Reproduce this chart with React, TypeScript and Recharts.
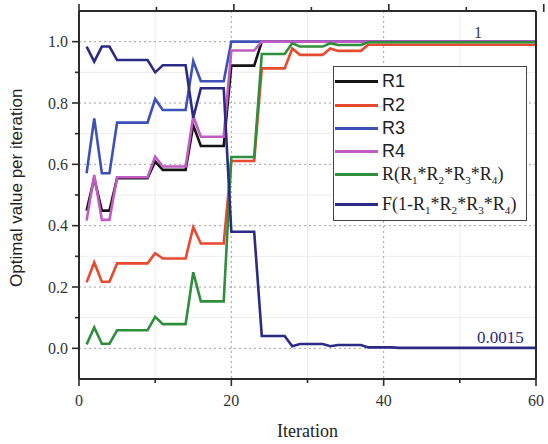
import {
  LineChart,
  Line,
  XAxis,
  YAxis,
  CartesianGrid,
  Legend,
  Label,
  ReferenceDot,
} from "recharts";

const iterations = Array.from({ length: 60 }, (_, i) => i + 1);

const r1 = [
  0.449, 0.555, 0.449, 0.449, 0.555, 0.555, 0.555, 0.555, 0.555, 0.609,
  0.582, 0.582, 0.582, 0.582, 0.727, 0.66, 0.66, 0.66, 0.66, 0.922,
  0.922, 0.922, 0.922, 1, 1, 1, 1, 1, 1, 1,
  1, 1, 1, 1, 1, 1, 1, 1, 1, 1,
  1, 1, 1, 1, 1, 1, 1, 1, 1, 1,
  1, 1, 1, 1, 1, 1, 1, 1, 1, 1,
];
const r2 = [
  0.215, 0.28, 0.217, 0.217, 0.277, 0.277, 0.277, 0.277, 0.277, 0.31,
  0.293, 0.293, 0.293, 0.293, 0.395, 0.342, 0.342, 0.342, 0.342, 0.611,
  0.611, 0.611, 0.611, 0.913, 0.913, 0.913, 0.913, 0.978, 0.957, 0.957,
  0.957, 0.957, 0.978, 0.97, 0.97, 0.97, 0.97, 0.99, 0.99, 0.99,
  0.99, 0.99, 0.99, 0.99, 0.99, 0.99, 0.99, 0.99, 0.99, 0.99,
  0.99, 0.99, 0.99, 0.99, 0.99, 0.99, 0.99, 0.99, 0.99, 0.99,
];
const r3 = [
  0.571, 0.75, 0.571, 0.571, 0.736, 0.736, 0.736, 0.736, 0.736, 0.813,
  0.777, 0.777, 0.777, 0.777, 0.937, 0.871, 0.871, 0.871, 0.871, 1,
  1, 1, 1, 1, 1, 1, 1, 1, 1, 1,
  1, 1, 1, 1, 1, 1, 1, 1, 1, 1,
  1, 1, 1, 1, 1, 1, 1, 1, 1, 1,
  1, 1, 1, 1, 1, 1, 1, 1, 1, 1,
];
const r4 = [
  0.417, 0.565, 0.419, 0.419, 0.558, 0.558, 0.558, 0.558, 0.558, 0.625,
  0.593, 0.593, 0.593, 0.593, 0.757, 0.69, 0.69, 0.69, 0.69, 0.971,
  0.971, 0.971, 0.971, 1, 1, 1, 1, 1, 1, 1,
  1, 1, 1, 1, 1, 1, 1, 1, 1, 1,
  1, 1, 1, 1, 1, 1, 1, 1, 1, 1,
  1, 1, 1, 1, 1, 1, 1, 1, 1, 1,
];
// system reliability R = R1*R2*R3*R4
const rSys = [
  0.013, 0.068, 0.015, 0.015, 0.059, 0.059, 0.059, 0.059, 0.059, 0.103,
  0.079, 0.079, 0.079, 0.079, 0.248, 0.153, 0.153, 0.153, 0.153, 0.624,
  0.624, 0.624, 0.624, 0.96, 0.96, 0.96, 0.96, 0.995, 0.984, 0.984,
  0.984, 0.984, 0.995, 0.989, 0.989, 0.989, 0.989, 0.998, 0.998, 0.998,
  0.998, 0.998, 0.998, 0.998, 0.998, 0.998, 0.998, 0.998, 0.998, 0.998,
  0.998, 0.998, 0.998, 0.998, 0.998, 0.998, 0.998, 0.998, 0.998, 0.998,
];
// failure F = 1 - R1*R2*R3*R4
const fSys = [
  0.984, 0.935, 0.984, 0.984, 0.94, 0.94, 0.94, 0.94, 0.94, 0.9,
  0.923, 0.923, 0.923, 0.923, 0.752, 0.848, 0.848, 0.848, 0.848, 0.38,
  0.38, 0.38, 0.38, 0.04, 0.04, 0.04, 0.04, 0.007, 0.014, 0.014,
  0.014, 0.014, 0.007, 0.011, 0.011, 0.011, 0.011, 0.003, 0.003, 0.003,
  0.003, 0.0015, 0.0015, 0.0015, 0.0015, 0.0015, 0.0015, 0.0015, 0.0015, 0.0015,
  0.0015, 0.0015, 0.0015, 0.0015, 0.0015, 0.0015, 0.0015, 0.0015, 0.0015, 0.0015,
];

const xTicks = [0, 10, 20, 30, 40, 50, 60];
const yTicks = [0, 0.1, 0.2, 0.3, 0.4, 0.5, 0.6, 0.7, 0.8, 0.9, 1.0];
const yMajorGrid = [0, 0.2, 0.4, 0.6, 0.8, 1.0];
const yMinorGrid = [0.1, 0.3, 0.5, 0.7, 0.9];
const xMajorGrid = [20, 40];
const xMinorGrid = [10, 30, 50];

const data = iterations.map((it, i) => ({
  it,
  R1: r1[i],
  R2: r2[i],
  R3: r3[i],
  R4: r4[i],
  R: rSys[i],
  F: fSys[i],
}));

const SERIF = '"Liberation Serif", "Times New Roman", serif';
const SANS = '"Liberation Sans", Arial, sans-serif';
const AXIS = "#2b2b2b";
const TEXT = "#333";

const SERIES = [
  { key: "R1", color: "#141414" },
  { key: "R2", color: "#e84a2f" },
  { key: "R3", color: "#3e51b8" },
  { key: "R4", color: "#c05cc4" },
  { key: "R", color: "#2f8f3c" },
  { key: "F", color: "#2b2b85" },
];
const seriesOrder = SERIES.map((s) => s.key);

const sub = (d: string) => (
  <sub style={{ fontSize: "0.62em", verticalAlign: "-0.35em", lineHeight: 0 }}>{d}</sub>
);

const legendLabels: Record<string, any> = {
  R1: <span style={{ fontFamily: SANS }}>R1</span>,
  R2: <span style={{ fontFamily: SANS }}>R2</span>,
  R3: <span style={{ fontFamily: SANS }}>R3</span>,
  R4: <span style={{ fontFamily: SANS }}>R4</span>,
  R: (
    <span style={{ fontFamily: SERIF }}>
      R(R{sub("1")}*R{sub("2")}*R{sub("3")}*R{sub("4")})
    </span>
  ),
  F: (
    <span style={{ fontFamily: SERIF }}>
      F(1-R{sub("1")}*R{sub("2")}*R{sub("3")}*R{sub("4")})
    </span>
  ),
};
const legendRowCenters = [14, 38, 61, 84, 107, 137];

function BoxLegend({ payload }: any) {
  if (!payload) return null;
  const items = [...payload].sort(
    (a: any, b: any) => seriesOrder.indexOf(a.dataKey) - seriesOrder.indexOf(b.dataKey)
  );
  return (
    <div
      style={{
        position: "relative",
        width: 194,
        height: 155,
        boxSizing: "border-box",
        border: "1.5px solid #444",
        background: "#fff",
      }}
    >
      {items.map((entry: any, i: number) => (
        <div
          key={entry.dataKey}
          style={{
            position: "absolute",
            left: 1,
            top: legendRowCenters[i] - 12,
            height: 24,
            display: "flex",
            alignItems: "center",
            whiteSpace: "nowrap",
            fontSize: 18,
            color: "#222",
          }}
        >
          <div style={{ width: 43, height: 3, background: entry.color }} />
          <div style={{ marginLeft: 4 }}>{legendLabels[entry.dataKey]}</div>
        </div>
      ))}
    </div>
  );
}

const isMajorX = (v: number) => v % 20 === 0;
const isMajorY = (v: number) => Math.round(v * 10) % 2 === 0;

function BottomTick({ x, y, payload }: any) {
  const major = isMajorX(payload.value);
  return (
    <g>
      <line x1={x} x2={x} y1={y - 1} y2={y + (major ? 7 : 4)} stroke={AXIS} strokeWidth={1.6} />
      {major && (
        <text x={x} y={y + 27} textAnchor="middle" fontFamily={SERIF} fontSize={16} fill={TEXT}>
          {payload.value}
        </text>
      )}
    </g>
  );
}

function TopTick({ x, y, payload }: any) {
  const major = isMajorX(payload.value);
  return <line x1={x} x2={x} y1={y + 1} y2={y - (major ? 7 : 4)} stroke={AXIS} strokeWidth={1.6} />;
}

function LeftTick({ x, y, payload }: any) {
  const major = isMajorY(payload.value);
  return (
    <g>
      <line x1={x - (major ? 7 : 4)} x2={x + 1} y1={y} y2={y} stroke={AXIS} strokeWidth={1.6} />
      {major && (
        <text x={x - 11} y={y} dy="0.35em" textAnchor="end" fontFamily={SERIF} fontSize={16} fill={TEXT}>
          {payload.value.toFixed(1)}
        </text>
      )}
    </g>
  );
}

function RightTick({ x, y, payload }: any) {
  const major = isMajorY(payload.value);
  return <line x1={x - 1} x2={x + (major ? 7 : 4)} y1={y} y2={y} stroke={AXIS} strokeWidth={1.6} />;
}

export default function App() {
  return (
    <div style={{ position: "absolute", left: 0, top: 0, background: "#fff" }}>
      <LineChart width={548} height={444} data={data} margin={{ top: 0, right: 0, bottom: 0, left: 0 }}>
        <CartesianGrid
          stroke="#ececec"
          strokeWidth={1}
          horizontalValues={yMinorGrid}
          verticalValues={xMinorGrid}
        />
        <CartesianGrid
          stroke="#a0a0a0"
          strokeWidth={1}
          strokeDasharray="2 3"
          horizontalValues={yMajorGrid}
          verticalValues={xMajorGrid}
        />
        <XAxis
          dataKey="it"
          type="number"
          domain={[0, 60]}
          ticks={xTicks}
          interval={0}
          height={65}
          tickSize={0}
          tickMargin={0}
          tickLine={false}
          tick={BottomTick}
          axisLine={{ stroke: AXIS, strokeWidth: 2 }}
        >
          <Label
            content={({ viewBox }: any) => (
              <text
                x={viewBox.x + viewBox.width / 2}
                y={viewBox.y + 58}
                textAnchor="middle"
                fontFamily={SERIF}
                fontSize={18}
                fill="#222"
              >
                Iteration
              </text>
            )}
          />
        </XAxis>
        <XAxis
          xAxisId="top"
          orientation="top"
          type="number"
          domain={[0, 60]}
          ticks={xTicks}
          interval={0}
          height={11}
          tickSize={0}
          tickMargin={0}
          tickLine={false}
          tick={TopTick}
          axisLine={{ stroke: AXIS, strokeWidth: 2 }}
        />
        <YAxis
          type="number"
          domain={[-0.1, 1.1]}
          ticks={yTicks}
          interval={0}
          width={79}
          tickSize={0}
          tickMargin={0}
          tickLine={false}
          tick={LeftTick}
          axisLine={{ stroke: AXIS, strokeWidth: 2 }}
        >
          <Label
            content={() => (
              <text
                x={22}
                y={287}
                transform="rotate(-90 22 287)"
                textAnchor="start"
                fontFamily={SANS}
                fontSize={17}
                fill="#222"
              >
                Optimal value per iteration
              </text>
            )}
          />
        </YAxis>
        <YAxis
          yAxisId="right"
          orientation="right"
          type="number"
          domain={[-0.1, 1.1]}
          ticks={yTicks}
          interval={0}
          width={12}
          tickSize={0}
          tickMargin={0}
          tickLine={false}
          tick={RightTick}
          axisLine={{ stroke: AXIS, strokeWidth: 2 }}
        />
        {SERIES.map((s) => (
          <Line
            key={s.key}
            type="linear"
            dataKey={s.key}
            name={s.key}
            stroke={s.color}
            strokeWidth={2.6}
            dot={false}
            activeDot={false}
            isAnimationActive={false}
          />
        ))}
        <ReferenceDot
          x={52.4}
          y={1.03}
          r={0}
          fill="none"
          stroke="none"
          label={
            <Label
              content={({ viewBox }: any) => (
                <text x={viewBox.x} y={viewBox.y} dy={6} textAnchor="middle" fontFamily={SERIF} fontSize={16} fill="#3a3a3a">
                  1
                </text>
              )}
            />
          }
        />
        <ReferenceDot
          x={58.4}
          y={0.036}
          r={0}
          fill="none"
          stroke="none"
          label={
            <Label
              content={({ viewBox }: any) => (
                <text x={viewBox.x} y={viewBox.y} dy={6} textAnchor="end" fontFamily={SERIF} fontSize={17} fill="#2b2b7a">
                  0.0015
                </text>
              )}
            />
          }
        />
        <Legend
          layout="vertical"
          align="center"
          verticalAlign="middle"
          content={BoxLegend}
          wrapperStyle={{ left: 333, top: 66, width: 194, height: 155 }}
        />
      </LineChart>
    </div>
  );
}
